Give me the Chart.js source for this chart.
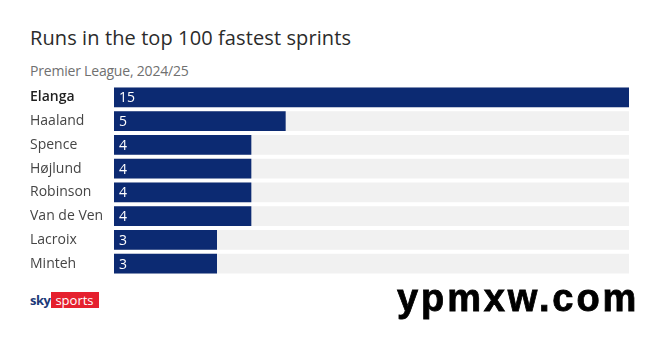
<!DOCTYPE html>
<html>
<head>
<meta charset="utf-8">
<script src="https://cdn.jsdelivr.net/npm/chart.js@4/dist/chart.umd.min.js"></script>
<style>
  html, body { margin: 0; padding: 0; background: #fff; }
  #wrap { position: relative; width: 660px; height: 344px; overflow: hidden; font-family: "Open Sans", "Noto Sans", sans-serif; }
  #title { position: absolute; left: 30px; top: 24px; font-size: 20px; font-weight: 500; color: #2b2b2b; letter-spacing: 0.1px; }
  #subtitle { position: absolute; left: 30px; top: 61px; font-size: 14px; color: #707070; letter-spacing: -0.2px; }
  #chartBox { position: absolute; left: 0; top: 77px; width: 660px; height: 207px; }
  #logo { position: absolute; left: 30px; top: 292px; height: 16px; display: flex; align-items: center; font-size: 13px; }
  #logo .sky { color: #1d3a78; font-weight: 700; margin-right: 1px; letter-spacing: -0.5px; }
  #logo .sports { background: #e5202e; color: #fff; padding: 0 5px 0 4px; line-height: 16px; height: 16px; }
  #mark { position: absolute; left: 397px; top: 277px; font-family: "Liberation Sans", Arial, sans-serif; font-weight: 700; font-size: 38px; letter-spacing: 2.9px; color: #000; -webkit-text-stroke: 0.8px #000; }
</style>
</head>
<body>
<div id="wrap">
  <div id="title">Runs in the top 100 fastest sprints</div>
  <div id="subtitle">Premier League, 2024/25</div>
  <div id="chartBox"><canvas id="c"></canvas></div>
  <div id="logo"><span class="sky">sky</span><span class="sports">sports</span></div>
  <div id="mark">ypmxw.com</div>
</div>
<script>
const players = ["Elanga", "Haaland", "Spence", "Højlund", "Robinson", "Van de Ven", "Lacroix", "Minteh"];
const runs = [15, 5, 4, 4, 4, 4, 3, 3];
const axisMax = 15;

const navy = "#0c2a72";
const track = "#f1f1f1";

// white value labels just inside the start of each bar
const valueLabels = {
  id: "valueLabels",
  afterDatasetsDraw(chart) {
    const ctx = chart.ctx;
    const meta = chart.getDatasetMeta(1);
    ctx.save();
    ctx.fillStyle = "#ffffff";
    ctx.font = '500 14px "Open Sans", sans-serif';
    ctx.textBaseline = "middle";
    ctx.textAlign = "left";
    meta.data.forEach((bar, i) => {
      ctx.fillText(String(runs[i]), bar.base + 5, bar.y + 1);
    });
    ctx.restore();
  }
};

new Chart(document.getElementById("c"), {
  type: "bar",
  data: {
    labels: players,
    datasets: [
      {
        label: "track",
        data: players.map(() => axisMax),
        backgroundColor: track,
        barPercentage: 0.83,
        categoryPercentage: 1.0,
        grouped: false,
        order: 2
      },
      {
        label: "Runs",
        data: runs,
        backgroundColor: navy,
        barPercentage: 0.83,
        categoryPercentage: 1.0,
        grouped: false,
        order: 1
      }
    ]
  },
  options: {
    indexAxis: "y",
    responsive: true,
    maintainAspectRatio: false,
    animation: false,
    layout: { padding: { left: 30, right: 31, top: 0, bottom: 0 } },
    plugins: {
      legend: { display: false },
      tooltip: { enabled: false }
    },
    scales: {
      x: {
        display: false,
        min: 0,
        max: axisMax,
        grid: { display: false }
      },
      y: {
        grid: { display: false, drawTicks: false },
        border: { display: false },
        afterFit(scale) { scale.width = 84; },
        ticks: {
          crossAlign: "far",
          padding: 0,
          color: (c) => c.index === 0 ? "#1f1f1f" : "#454545",
          font: (c) => ({
            family: '"Open Sans", sans-serif',
            size: 14,
            weight: c.index === 0 ? "600" : "400"
          })
        }
      }
    }
  },
  plugins: [valueLabels]
});
</script>
</body>
</html>
